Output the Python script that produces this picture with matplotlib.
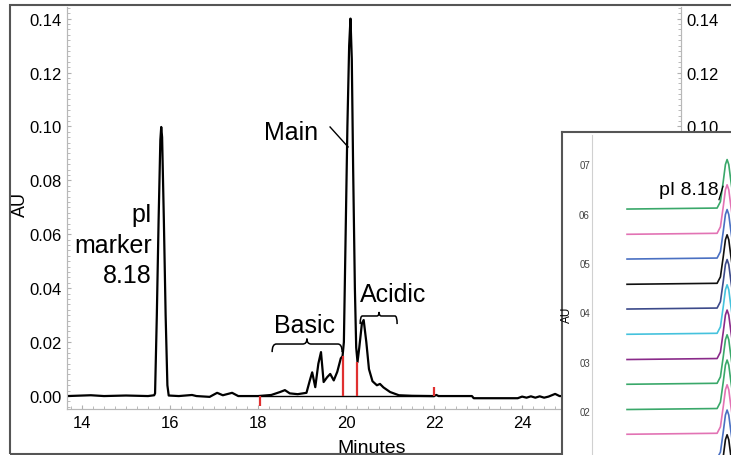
import numpy as np
import matplotlib
matplotlib.use("Agg")
import matplotlib.pyplot as plt
from matplotlib.path import Path
from matplotlib.patches import PathPatch, Rectangle
from matplotlib.ticker import MultipleLocator, FormatStrFormatter

plt.rcParams['font.family'] = ['Liberation Sans', 'DejaVu Sans']

# --- main electropherogram (minutes, AU) ---
trace_t = [13.66, 14.2, 14.5, 15.0, 15.5, 15.64, 15.66, 15.70, 15.74, 15.78, 15.80,
           15.82, 15.86, 15.90, 15.94, 15.97, 16.2, 16.5, 16.6, 16.9, 17.07, 17.2,
           17.41, 17.55, 18.0, 18.3, 18.5, 18.61, 18.72, 18.9, 19.1, 19.18, 19.23,
           19.30, 19.37, 19.43, 19.49, 19.57, 19.64, 19.72, 19.80, 19.88, 19.92,
           19.95, 19.99, 20.03, 20.07, 20.10, 20.13, 20.16, 20.20, 20.23, 20.26,
           20.30, 20.36, 20.40, 20.46, 20.52, 20.60, 20.70, 20.77, 20.85, 21.0,
           21.2, 21.5, 22.0, 22.05, 22.1, 22.86, 22.9, 23.9, 24.0, 24.1, 24.2,
           24.3, 24.4, 24.5, 24.6, 24.75, 24.85, 25.5]
trace_au = [0.0, 0.0003, 0.0, 0.0002, 0.0, 0.0003, 0.001, 0.03, 0.065, 0.095, 0.0998,
            0.096, 0.065, 0.03, 0.004, 0.0002, 0.0, 0.0004, 0.0, -0.0003, 0.0012, 0.0003,
            0.0012, 0.0, 0.0, 0.0004, 0.0015, 0.0022, 0.001, 0.0007, 0.0012, 0.006, 0.0088,
            0.0033, 0.012, 0.0163, 0.0052, 0.007, 0.0082, 0.0058, 0.009, 0.014, 0.0148,
            0.02, 0.06, 0.10, 0.13, 0.140, 0.125, 0.085, 0.04, 0.018, 0.0126,
            0.018, 0.027, 0.0282, 0.02, 0.010, 0.0055, 0.004, 0.0045, 0.0032, 0.0015,
            0.0003, 0.0001, 0.0, 0.0004, 0.0, 0.0, -0.0008, -0.0008, -0.0002, -0.0006, -0.0001,
            -0.0006, -0.0001, -0.0006, -0.0002, 0.0008, 0.0, 0.0]

# red integration markers
red_t = [18.05, 19.93, 20.25, 22.0]
red_lo = [-0.0037, 0.0, 0.0, 0.0]
red_hi = [0.0, 0.0148, 0.0128, 0.0033]

# right-hand axis labels that stay visible above the inset
right_ticks = [0.10, 0.12, 0.14]

# --- inset: stacked pI marker peaks ---
inset_t = [14.0, 15.62, 15.68, 15.73, 15.77, 15.80, 15.83, 15.87, 15.92, 15.98, 16.5]
inset_peak = [0.0, 0.002, 0.015, 0.055, 0.09, 0.10, 0.09, 0.055, 0.015, 0.002, 0.0]
inset_offsets = [0.609, 0.558, 0.508, 0.457, 0.407, 0.356, 0.305, 0.255, 0.204, 0.154, 0.103, 0.053]
inset_colors = ['#3aa86a', '#e273b4', '#4a70c2', '#111111', '#3c4a8a', '#45c2dd',
                '#8a2b8a', '#3aa86a', '#3aa86a', '#e273b4', '#4a70c2', '#111111']
inset_yticks = [0.2, 0.3, 0.4, 0.5, 0.6, 0.7]
inset_ylabels = ['02', '03', '04', '05', '06', '07']

W, H = 731, 456
fig = plt.figure(figsize=(W / 100, H / 100), dpi=100)


def brace(axis, x0, x1, y_end, y_mid, y_tip, xc=None):
    if xc is None:
        xc = (x0 + x1) / 2
    r = (x1 - x0) * 0.06
    verts = [(x0, y_end), (x0, y_mid), (x0 + r, y_mid),
             (xc - r, y_mid),
             (xc, y_mid), (xc, y_tip),
             (xc, y_mid), (xc + r, y_mid),
             (x1 - r, y_mid),
             (x1, y_mid), (x1, y_end)]
    codes = [Path.MOVETO, Path.CURVE3, Path.CURVE3, Path.LINETO,
             Path.CURVE3, Path.CURVE3, Path.CURVE3, Path.CURVE3,
             Path.LINETO, Path.CURVE3, Path.CURVE3]
    axis.add_patch(PathPatch(Path(verts, codes), fill=False, lw=1.1, color='black'))


def style_axis(a):
    a.tick_params(which='both', direction='in', color='#b0b0b0', labelsize=12, pad=4)
    a.tick_params(which='major', length=3)
    a.tick_params(which='minor', length=2)
    a.spines['top'].set_visible(False)
    for s in ['left', 'right', 'bottom']:
        a.spines[s].set_color('#b8b8b8')
        a.spines[s].set_linewidth(0.8)


ax = fig.add_axes([67 / W, 46 / H, 614 / W, 402 / H])
ax.plot(trace_t, trace_au, color='black', lw=1.6, zorder=3)
ax.hlines(0, red_t[0], red_t[-1], color='black', lw=1.0, zorder=2)
ax.vlines(red_t, red_lo, red_hi, color='#e03030', lw=1.6, zorder=4)

ax.set_xlim(13.659, 27.61)
ax.set_ylim(-0.0048, 0.1443)
ax.xaxis.set_major_locator(MultipleLocator(2))
ax.xaxis.set_minor_locator(MultipleLocator(0.25))
ax.yaxis.set_major_locator(MultipleLocator(0.02))
ax.yaxis.set_minor_locator(MultipleLocator(0.002))
ax.yaxis.set_major_formatter(FormatStrFormatter('%.2f'))
style_axis(ax)

axr = ax.twinx()
axr.set_ylim(ax.get_ylim())
axr.set_yticks(right_ticks)
axr.yaxis.set_minor_locator(MultipleLocator(0.002))
axr.yaxis.set_major_formatter(FormatStrFormatter('%.2f'))
style_axis(axr)

# annotations
ax.text(15.59, 0.0423, 'pI\nmarker\n8.18', ha='right', va='baseline',
        multialignment='right', fontsize=18, linespacing=1.33)
ax.text(18.75, 0.0954, 'Main', ha='center', va='baseline', fontsize=18)
ax.plot([19.636, 20.045], [0.0998, 0.0924], color='black', lw=1.0)
ax.text(19.05, 0.0237, 'Basic', ha='center', va='baseline', fontsize=18)
brace(ax, 18.32, 19.91, 0.0163, 0.0193, 0.0213, xc=19.11)
ax.text(21.07, 0.0352, 'Acidic', ha='center', va='baseline', fontsize=18)
brace(ax, 20.32, 21.16, 0.0267, 0.0297, 0.0312, xc=20.75)

fig.text(20 / W, 1 - 205 / H, 'AU', rotation=90, ha='center', va='center', fontsize=13)
fig.text(372 / W, 1 - 453 / H, 'Minutes', ha='center', va='baseline', fontsize=14)

# outer frame
fig.add_artist(Rectangle((10 / W, 1 / H), 1.0, 449 / H, transform=fig.transFigure,
                         fill=False, edgecolor='#555555', lw=1.5, zorder=2))

# inset frame
fa = fig.add_axes([562 / W, -0.1, 0.3, (H - 133) / H + 0.1], zorder=5)
fa.set_facecolor('white')
fa.set_xticks([])
fa.set_yticks([])
for s in ['right', 'bottom']:
    fa.spines[s].set_visible(False)
for s in ['left', 'top']:
    fa.spines[s].set_color('#555555')
    fa.spines[s].set_linewidth(1.5)

ia = fig.add_axes([592 / W, (H - 555) / H, (900 - 592) / W, (555 - 136) / H], zorder=6)
ia.set_facecolor('none')
for off, c in zip(inset_offsets, inset_colors):
    ia.plot(inset_t, np.array(inset_peak) + off, color=c, lw=1.2)
ia.set_xlim(13.37, 18.91)
ia.set_ylim(-0.0879, 0.7586)
ia.set_xticks([])
ia.set_yticks(inset_yticks)
ia.set_yticklabels(inset_ylabels)
ia.tick_params(axis='y', length=0, pad=1.5, labelsize=7, labelcolor='#444444')
for s in ['top', 'right', 'bottom']:
    ia.spines[s].set_visible(False)
ia.spines['left'].set_color('#d0d0d0')
ia.spines['left'].set_linewidth(0.8)
ia.text(15.64, 0.64, 'pI 8.18', ha='right', va='baseline', fontsize=14)
ia.plot([15.654, 15.726], [0.628, 0.655], color='black', lw=0.9)
fig.text(567 / W, 1 - 315 / H, 'AU', rotation=90, ha='center', va='center',
         fontsize=8.5, zorder=7)

fig.savefig('out.png', dpi=100)
